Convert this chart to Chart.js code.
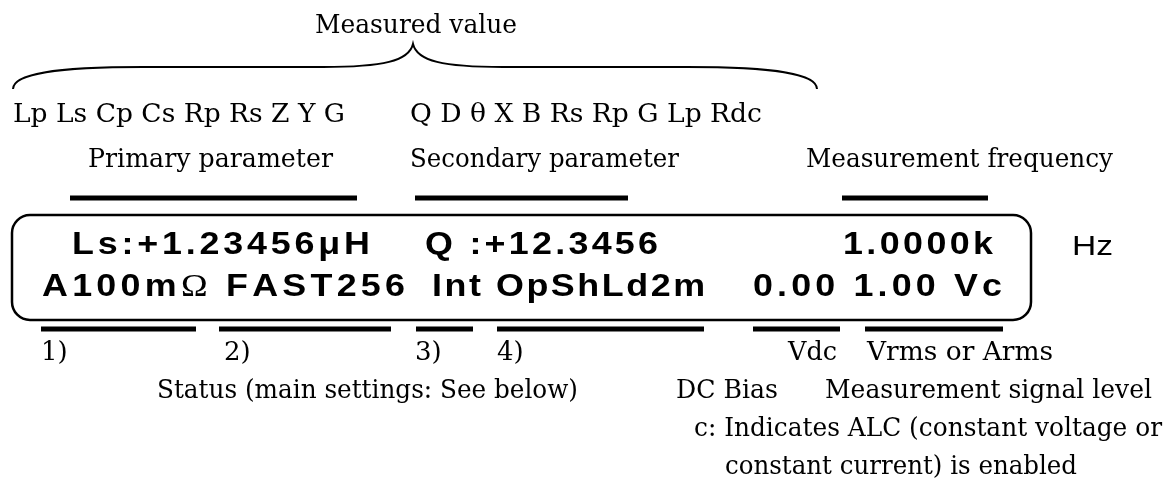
<!DOCTYPE html>
<html>
<head>
<meta charset="utf-8">
<script src="https://cdn.jsdelivr.net/npm/chart.js@4.4.0/dist/chart.umd.min.js"></script>
<style>
  html, body { margin: 0; padding: 0; background: #fff; }
  canvas { display: block; }
</style>
</head>
<body>
<canvas id="panel" width="1165" height="490"></canvas>
<script>
// what the LCR meter screen shows
const displayLine1 = ["Ls:+1.23456μH", "Q :+12.3456", "1.0000k"];
const displayLine2 = ["A100mΩ FAST256", "Int OpShLd2m", "0.00 1.00 Vc"];
const unitLabel = "Hz";

// callout texts
const topLabels = [
  "Measured value",
  "Lp Ls Cp Cs Rp Rs Z Y G",
  "Q D θ X B Rs Rp G Lp Rdc",
  "Primary parameter",
  "Secondary parameter",
  "Measurement frequency"
];
const bottomLabels = [
  "1)", "2)", "3)", "4)",
  "Vdc", "Vrms or Arms",
  "Status (main settings: See below)",
  "DC Bias", "Measurement signal level",
  "c: Indicates ALC (constant voltage or",
  "constant current) is enabled"
];

// layout on the hidden axes: [left, right, baseline]  (right = null -> natural width)
const line1Pos = [[72, 370, 254], [425, 658, 254], [843, 993, 254]];
const line2Pos = [[42, 405, 296], [432, 705, 296], [753, 1002, 296]];
const unitPos = [1072, 1113, 255];
const topPos = [
  [315, 517, 33], [13, 345, 122], [410, 762, 122],
  [88, 333, 167], [410, 679, 167], [806, 1113, 167]
];
const bottomPos = [
  [41, null, 360], [224, null, 360], [415, null, 360], [497, null, 360],
  [788, 837, 360], [867, 1053, 360],
  [157, 578, 398],
  [676, 778, 398], [825, 1152, 398],
  [694, 1162, 436],
  [725, 1077, 474]
];
// underline bars: [x0, x1]
const topBars = [[70, 357], [415, 628], [842, 988]];
const topBarY = 198;
const bottomBars = [[41, 196], [219, 391], [416, 473], [497, 704], [753, 840], [865, 1003]];
const bottomBarY = 329;
// display frame
const frameBox = { left: 12, right: 1031, top: 215, bottom: 320, radius: 18 };
// brace over the parameter lists
const braceLeft = [13, 89], braceRight = [817, 89], braceTip = [413, 44], braceLineY = 67;

const serifFont = "26px 'DejaVu Serif'";
const lcdFont = "bold 32px 'Liberation Sans'";
const omegaFont = "32px 'Liberation Serif'";
const lcdStretch = 1.12;

const barSets = [...topBars.map((b) => [b, topBarY]), ...bottomBars.map((b) => [b, bottomBarY])]
  .map(([b, y]) => ({
    data: [{ x: b[0], y: y }, { x: b[1], y: y }],
    showLine: true,
    borderColor: "#000",
    borderWidth: 5,
    borderCapStyle: "butt",
    pointRadius: 0
  }));

function drawStretched(ctx, text, x0, x1, y) {
  const w = ctx.measureText(text).width;
  if (x1 === null) { ctx.fillText(text, x0, y); return; }
  ctx.save();
  ctx.translate(x0, y);
  ctx.scale((x1 - x0) / w, 1);
  ctx.fillText(text, 0, 0);
  ctx.restore();
}

// lcd text: widen the glyphs a bit, then spread them so the run spans x0..x1
function drawSpaced(ctx, text, x0, x1, y) {
  const chars = Array.from(text);
  const fontOf = (c) => (c === "Ω" ? omegaFont : lcdFont);
  const widths = chars.map((c) => { ctx.font = fontOf(c); return ctx.measureText(c).width * lcdStretch; });
  const total = widths.reduce((a, b) => a + b, 0);
  const gap = chars.length > 1 ? (x1 - x0 - total) / (chars.length - 1) : 0;
  let x = x0;
  chars.forEach((c, i) => {
    ctx.font = fontOf(c);
    ctx.save();
    ctx.translate(x, y);
    ctx.scale(lcdStretch, 1);
    ctx.fillText(c, 0, 0);
    ctx.restore();
    x += widths[i] + gap;
  });
}

const diagramPlugin = {
  id: "diagram",
  afterDatasetsDraw(chart) {
    const ctx = chart.ctx;
    const sx = chart.scales.x, sy = chart.scales.y;
    const X = (v) => sx.getPixelForValue(v), Y = (v) => sy.getPixelForValue(v);
    ctx.save();
    ctx.fillStyle = "#000";
    ctx.strokeStyle = "#000";
    ctx.textBaseline = "alphabetic";

    // rounded frame of the display
    const f = frameBox;
    ctx.lineWidth = 2.5;
    ctx.beginPath();
    ctx.roundRect(X(f.left), Y(f.top), X(f.right) - X(f.left), Y(f.bottom) - Y(f.top), f.radius);
    ctx.stroke();

    // brace
    const [lx, ly] = braceLeft, [rx, ry] = braceRight, [tx, ty] = braceTip, h = braceLineY;
    ctx.lineWidth = 2;
    ctx.beginPath();
    ctx.moveTo(X(lx), Y(ly));
    ctx.bezierCurveTo(X(lx), Y(74), X(lx + 40), Y(h), X(lx + 130), Y(h));
    ctx.lineTo(X(tx - 90), Y(h));
    ctx.bezierCurveTo(X(tx - 30), Y(h), X(tx - 4), Y(h - 6), X(tx), Y(ty));
    ctx.bezierCurveTo(X(tx + 4), Y(h - 6), X(tx + 30), Y(h), X(tx + 90), Y(h));
    ctx.lineTo(X(rx - 130), Y(h));
    ctx.bezierCurveTo(X(rx - 40), Y(h), X(rx), Y(74), X(rx), Y(ry));
    ctx.stroke();

    // callout texts
    ctx.font = serifFont;
    topLabels.forEach((t, i) => drawStretched(ctx, t, X(topPos[i][0]), topPos[i][1] === null ? null : X(topPos[i][1]), Y(topPos[i][2])));
    bottomLabels.forEach((t, i) => drawStretched(ctx, t, X(bottomPos[i][0]), bottomPos[i][1] === null ? null : X(bottomPos[i][1]), Y(bottomPos[i][2])));

    // screen contents
    displayLine1.forEach((t, i) => drawSpaced(ctx, t, X(line1Pos[i][0]), X(line1Pos[i][1]), Y(line1Pos[i][2])));
    displayLine2.forEach((t, i) => drawSpaced(ctx, t, X(line2Pos[i][0]), X(line2Pos[i][1]), Y(line2Pos[i][2])));
    ctx.font = "28px 'Liberation Sans'";
    drawStretched(ctx, unitLabel, X(unitPos[0]), X(unitPos[1]), Y(unitPos[2]));
    ctx.restore();
  }
};

new Chart(document.getElementById("panel"), {
  type: "scatter",
  data: { datasets: barSets },
  options: {
    responsive: false,
    animation: false,
    events: [],
    layout: { padding: 0 },
    plugins: { legend: { display: false }, tooltip: { enabled: false } },
    scales: {
      x: { type: "linear", min: 0, max: 1165, display: false },
      y: { type: "linear", min: 0, max: 490, reverse: true, display: false }
    }
  },
  plugins: [diagramPlugin]
});
</script>
</body>
</html>
